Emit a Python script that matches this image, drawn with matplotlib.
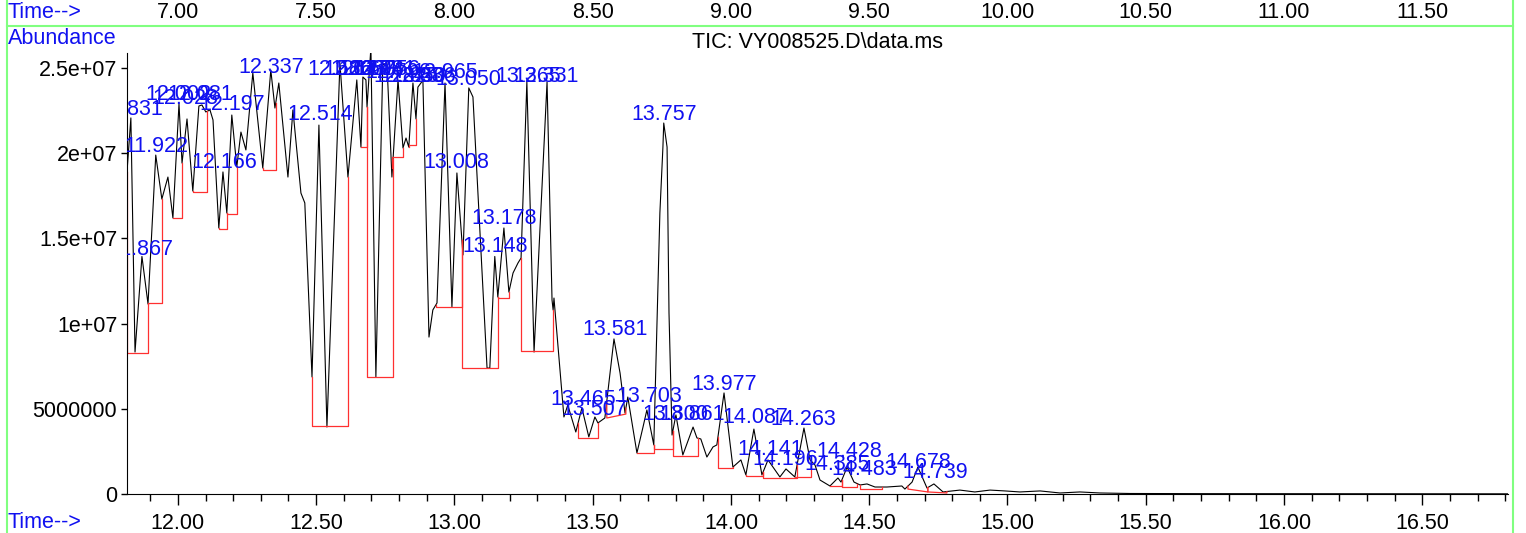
import numpy as np
import matplotlib
matplotlib.use('Agg')
import matplotlib.pyplot as plt
import matplotlib.transforms as mtransforms
from matplotlib.lines import Line2D
from matplotlib.ticker import MultipleLocator, FormatStrFormatter

plt.rcParams['font.family'] = ['Liberation Sans', 'DejaVu Sans']

# TIC trace: retention time (min) and abundance (millions)
times = [11.816, 11.830, 11.845, 11.870, 11.892, 11.920, 11.942, 11.964, 11.982, 12.004,
         12.015, 12.033, 12.054, 12.076, 12.087, 12.101, 12.116, 12.127, 12.148, 12.163,
         12.177, 12.195, 12.213, 12.228, 12.246, 12.271, 12.307, 12.336, 12.351, 12.365,
         12.398, 12.416, 12.445, 12.459, 12.485, 12.510, 12.539, 12.586, 12.615, 12.647,
         12.662, 12.669, 12.680, 12.684, 12.698, 12.716, 12.741, 12.756, 12.774, 12.796,
         12.814, 12.825, 12.835, 12.850, 12.861, 12.868, 12.879, 12.886, 12.908, 12.922,
         12.937, 12.966, 12.991, 13.009, 13.031, 13.052, 13.067, 13.118, 13.128, 13.146,
         13.157, 13.179, 13.197, 13.212, 13.230, 13.241, 13.262, 13.288, 13.335, 13.353,
         13.357, 13.360, 13.396, 13.410, 13.439, 13.461, 13.486, 13.508, 13.519, 13.544,
         13.577, 13.599, 13.617, 13.627, 13.660, 13.682, 13.696, 13.721, 13.743, 13.754,
         13.757, 13.769, 13.776, 13.787, 13.801, 13.826, 13.863, 13.877, 13.891, 13.913,
         13.935, 13.949, 13.975, 14.007, 14.036, 14.054, 14.083, 14.112, 14.134, 14.177,
         14.199, 14.231, 14.264, 14.286, 14.304, 14.322, 14.358, 14.387, 14.398, 14.420,
         14.445, 14.467, 14.492, 14.521, 14.564, 14.618, 14.629, 14.655, 14.676, 14.709,
         14.734, 14.767, 14.828, 14.882, 14.937, 14.991, 15.045, 15.118, 15.190, 15.262,
         15.335, 15.443, 15.696, 16.810]
abund = [18.90, 22.07, 8.33, 13.94, 11.15, 19.89, 17.31, 18.60, 16.20, 22.89,
         19.42, 22.01, 17.78, 22.77, 22.83, 22.42, 22.54, 21.95, 15.61, 18.90,
         16.49, 22.24, 19.19, 21.24, 20.19, 24.71, 19.13, 24.88, 22.65, 24.12,
         18.60, 22.54, 17.66, 17.08, 6.87, 21.65, 3.93, 25.29, 18.60, 24.30,
         20.36, 24.47, 24.30, 22.71, 26.20, 6.87, 25.18, 25.29, 18.60, 24.30,
         20.31, 20.89, 20.36, 24.12, 22.01, 23.88, 24.12, 24.30, 9.21, 10.80,
         11.21, 24.12, 10.97, 18.84, 14.03, 23.83, 23.30, 7.39, 7.39, 13.94,
         11.56, 15.61, 11.85, 12.97, 13.56, 13.85, 24.18, 8.33, 24.18, 11.38,
         10.80, 11.50, 4.52, 5.22, 3.64, 5.05, 3.35, 4.52, 4.17, 4.46,
         9.10, 7.10, 4.75, 5.69, 2.41, 3.93, 4.93, 2.88, 16.49, 20.36,
         21.77, 20.36, 10.62, 3.46, 4.64, 2.29, 3.93, 3.29, 3.23, 2.17,
         2.76, 2.88, 5.93, 1.58, 2.00, 1.12, 3.81, 1.12, 2.00, 1.00,
         1.47, 1.00, 3.87, 2.00, 1.70, 0.82, 0.47, 0.94, 0.70, 1.58,
         0.70, 0.53, 0.59, 0.41, 0.41, 0.47, 0.29, 0.70, 1.58, 0.35,
         0.59, 0.12, 0.23, 0.12, 0.23, 0.18, 0.12, 0.18, 0.06, 0.12,
         0.06, 0.03, 0.02, 0.01]

# integration baselines: start/end time and baseline level at each end (millions)
base_t0 = [11.816, 11.892, 11.982, 12.054, 12.148, 12.177, 12.307, 12.485, 12.662, 12.684,
           12.776, 12.835, 12.933, 13.027, 13.157, 13.241, 13.447, 13.551, 13.660, 13.721,
           13.790, 13.953, 14.054, 14.116, 14.231, 14.358, 14.401, 14.467, 14.640, 14.712]
base_t1 = [11.892, 11.942, 12.015, 12.105, 12.177, 12.213, 12.354, 12.615, 12.684, 12.778,
           12.814, 12.861, 13.027, 13.157, 13.197, 13.357, 13.519, 13.620, 13.721, 13.790,
           13.881, 14.007, 14.116, 14.239, 14.289, 14.401, 14.456, 14.546, 14.712, 14.781]
base_y0 = [8.27, 11.21, 16.20, 17.72, 15.55, 16.43, 19.00, 3.99, 20.36, 6.87,
           19.78, 20.48, 10.97, 7.39, 11.50, 8.39, 3.29, 4.46, 2.41, 2.64,
           2.23, 1.53, 1.06, 0.94, 1.00, 0.47, 0.41, 0.29, 0.29, 0.12]
base_y1 = [8.27, 11.21, 16.20, 17.72, 15.55, 16.43, 19.00, 3.99, 20.36, 6.87,
           19.78, 20.48, 10.97, 7.39, 11.50, 8.39, 3.29, 4.69, 2.41, 2.64,
           2.23, 1.53, 1.06, 0.94, 1.00, 0.47, 0.41, 0.29, 0.12, 0.06]

# peak labels: retention time and label height (millions)
peak_rt = [11.831, 11.867, 11.922, 12.002, 12.028, 12.081, 12.166, 12.197, 12.337, 12.514,
           12.586, 12.647, 12.669, 12.698, 12.741, 12.756, 12.796, 12.825, 12.850, 12.886,
           12.965, 13.008, 13.050, 13.148, 13.178, 13.265, 13.331, 13.465, 13.507, 13.581,
           13.703, 13.757, 13.800, 13.861, 13.977, 14.087, 14.141, 14.196, 14.263, 14.385,
           14.428, 14.483, 14.678, 14.739]
peak_h = [22.24, 14.03, 20.07, 23.10, 22.90, 23.10, 19.13, 22.54, 24.71, 21.95,
          24.60, 24.60, 24.60, 24.60, 24.60, 24.60, 24.40, 24.20, 24.20, 24.20,
          24.41, 19.13, 24.00, 14.20, 15.85, 24.18, 24.18, 5.22, 4.64, 9.33,
          5.40, 21.95, 4.34, 4.34, 6.10, 4.17, 2.29, 1.70, 4.05, 1.41,
          2.17, 1.12, 1.53, 0.94]

top_ticks = [7.0, 7.5, 8.0, 8.5, 9.0, 9.5, 10.0, 10.5, 11.0, 11.5]
top_shift = 5.0

yticks = [0, 5e6, 1e7, 1.5e7, 2e7, 2.5e7]
ytick_labels = ['0', '5000000', '1e+07', '1.5e+07', '2e+07', '2.5e+07']

FS = 15.5
blue = '#1010f0'

W, H = 1526, 533
fig = plt.figure(figsize=(W / 100, H / 100), dpi=100)
ax = fig.add_axes([127 / W, 39 / H, 1381 / W, 441 / H])

t = np.array(times)
a = np.array(abund) * 1e6
ax.plot(t, a, color='black', lw=0.8)

for t0, t1, y0, y1 in zip(base_t0, base_t1, base_y0, base_y1):
    xs = [t0, t0, t1, t1]
    ys = [np.interp(t0, t, a), y0 * 1e6, y1 * 1e6, np.interp(t1, t, a)]
    ax.plot(xs, ys, color='#ff3030', lw=0.9)

for rt, h in zip(peak_rt, peak_h):
    ax.text(rt, h * 1e6, f'{rt:.3f}', ha='center', va='baseline', color=blue,
            fontsize=FS, clip_on=True)

ax.set_xlim(11.816, 16.81)
ax.set_ylim(0, 2.588e7)
ax.xaxis.set_major_locator(MultipleLocator(0.5))
ax.xaxis.set_minor_locator(MultipleLocator(0.1))
ax.xaxis.set_major_formatter(FormatStrFormatter('%.2f'))
ax.set_yticks(yticks)
ax.set_yticklabels(ytick_labels)
ax.tick_params(axis='x', which='major', length=8, width=1, labelsize=FS, pad=5.5)
ax.tick_params(axis='x', which='minor', length=5, width=1)
ax.tick_params(axis='y', length=4, width=1, labelsize=FS, pad=3)
for s in ['top', 'right']:
    ax.spines[s].set_visible(False)

green = '#80ff80'
fig.add_artist(Line2D([7 / W, 7 / W], [0, 1], transform=fig.transFigure, color=green, lw=1.5))
fig.add_artist(Line2D([1513 / W, 1513 / W], [0, 1], transform=fig.transFigure, color=green, lw=1.5))
fig.add_artist(Line2D([7 / W, 1513 / W], [1 - 26 / H, 1 - 26 / H], transform=fig.transFigure,
                      color=green, lw=1.5))

fig.text(8 / W, 1 - 12 / H, 'Time-->', color=blue, fontsize=FS, va='center')
fig.text(8 / W, 1 - 39 / H, 'Abundance', color=blue, fontsize=FS, va='center')
fig.text(8 / W, 1 - 523 / H, 'Time-->', color=blue, fontsize=FS, va='center')
fig.text(818 / W, 1 - 42 / H, 'TIC: VY008525.D\\data.ms', fontsize=FS, ha='center', va='center')

trans = mtransforms.blended_transform_factory(ax.transData, fig.transFigure)
for v in top_ticks:
    fig.text(v + top_shift, 1 - 13 / H, f'{v:.2f}', transform=trans, fontsize=FS,
             ha='center', va='center')

fig.savefig('out.png', dpi=100)
